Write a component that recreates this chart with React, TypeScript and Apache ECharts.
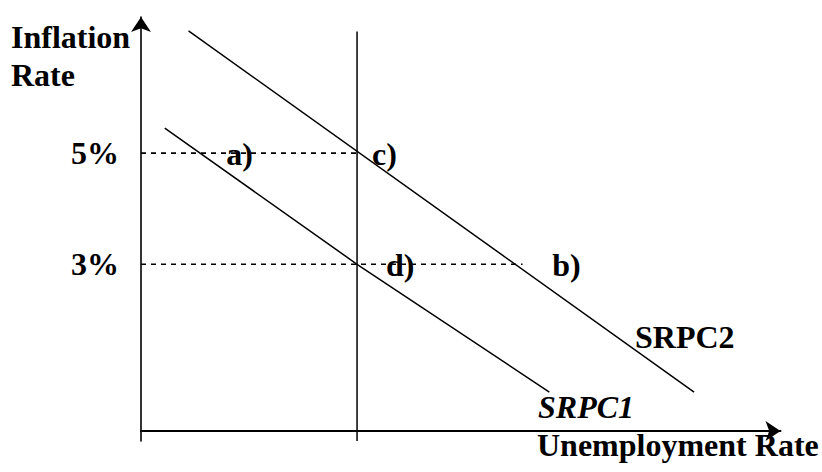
import React, { useEffect, useRef } from "react";
import * as echarts from "echarts";

// Data (x: unemployment units, y: inflation %)
const naturalRate = 5;
const srpc1 = [[0.55, 5.45], [5, 3], [9.45, 0.7]];
const srpc2 = [[1.1, 7.2], [12.8, 0.7]];
const lrpcTop = 7.19;
const inflationLevels = [5, 3];
const dashEnds = [5, 8.83];
const pointNames = ["a)", "c)", "d)", "b)"];
const pointValues = [[1.37, 5], [5, 5], [5, 3], [8.66, 3]];
const pointLabelOffsets = [26, 15, 29, 37];
const yTickLabels = [3, 5];

const X_MIN = 0, X_MAX = 14.8, Y_MIN = -0.18, Y_MAX = 7.45;
const FONT = "'Liberation Serif', 'Times New Roman', serif";
const FS = 32;

export default function App() {
  const ref = useRef<HTMLDivElement>(null);
  useEffect(() => {
    document.body.style.margin = "0";
    const chart = echarts.init(ref.current!, undefined, { renderer: "svg" });
    const black = "#000";
    chart.setOption({
      animation: false,
      backgroundColor: "#fff",
      grid: { left: 141, right: 41.5, top: 17, bottom: 31 },
      xAxis: {
        type: "value", min: X_MIN, max: X_MAX,
        splitLine: { show: false }, axisTick: { show: false }, axisLabel: { show: false },
        axisLine: { show: true, onZero: true, symbol: ["none", "arrow"], symbolSize: [15, 15], lineStyle: { color: black, width: 2 } },
      },
      yAxis: {
        type: "value", min: Y_MIN, max: Y_MAX,
        splitLine: { show: false }, axisTick: { show: false },
        axisLabel: {
          show: true, customValues: yTickLabels, formatter: "{value}%", margin: 22,
          color: black, fontFamily: FONT, fontWeight: "bold", fontSize: FS,
        },
        axisLine: { show: true, onZero: false, symbol: ["none", "arrow"], symbolSize: [15, 15], lineStyle: { color: black, width: 1.6 } },
      },
      series: [
        {
          name: "LRPC", type: "line", data: [[naturalRate, Y_MIN], [naturalRate, lrpcTop]],
          symbol: "none", lineStyle: { color: black, width: 1.5 }, silent: true,
        },
        {
          name: "SRPC1", type: "line", data: srpc1,
          symbol: "none", lineStyle: { color: black, width: 1.5 }, silent: true,
        },
        {
          name: "SRPC2", type: "line", data: srpc2,
          symbol: "none", lineStyle: { color: black, width: 1.5 }, silent: true,
        },
        ...inflationLevels.map((lv, i) => ({
          name: "dash" + lv, type: "line", data: [[0, lv], [dashEnds[i], lv]],
          symbol: "none", lineStyle: { color: black, width: 1.6, type: [5, 5] }, silent: true, z: 3,
        })),
        {
          name: "points", type: "scatter", symbolSize: 0, silent: true, z: 1,
          itemStyle: { opacity: 1 },
          data: pointNames.map((n, i) => ({
            name: n, value: pointValues[i],
            label: {
              show: true, formatter: n, position: "right", distance: 0, offset: [pointLabelOffsets[i], 1],
              color: black, fontFamily: FONT, fontWeight: "bold", fontSize: FS,
            },
          })),
        },
      ],
      graphic: [
        { type: "text", left: 11, top: 18, style: { text: "Inflation\nRate", font: `bold ${FS}px ${FONT}`, fill: black, lineHeight: 38 } },
        { type: "text", left: 537, top: 429, style: { text: "Unemployment Rate", font: `bold ${FS}px ${FONT}`, fill: black } },
        { type: "text", left: 635, top: 321, style: { text: "SRPC2", font: `bold ${FS}px ${FONT}`, fill: black } },
        { type: "text", left: 538, top: 391, style: { text: "SRPC1", font: `italic bold ${FS}px ${FONT}`, fill: black } },
      ],
    });
    return () => chart.dispose();
  }, []);
  return <div ref={ref} style={{ width: 822, height: 472 }} />;
}
